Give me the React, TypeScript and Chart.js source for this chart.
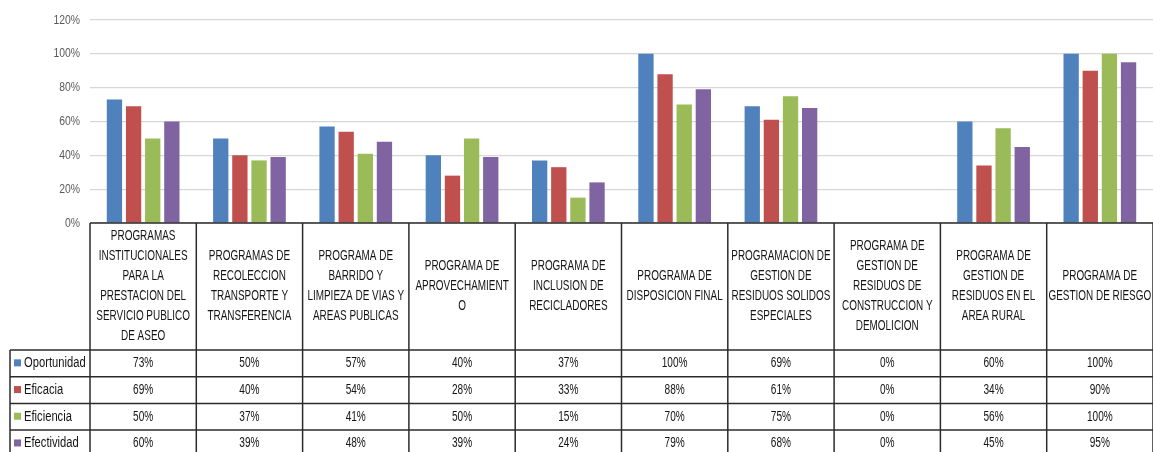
import React, { useEffect, useRef } from "react";
import { Chart, registerables } from "chart.js";

Chart.register(...registerables);

const categories: string[][] = [
  ["PROGRAMAS", "INSTITUCIONALES", "PARA LA", "PRESTACION DEL", "SERVICIO PUBLICO", "DE ASEO"],
  ["PROGRAMAS DE", "RECOLECCION", "TRANSPORTE Y", "TRANSFERENCIA"],
  ["PROGRAMA DE", "BARRIDO Y", "LIMPIEZA DE VIAS Y", "AREAS PUBLICAS"],
  ["PROGRAMA DE", "APROVECHAMIENT", "O"],
  ["PROGRAMA DE", "INCLUSION DE", "RECICLADORES"],
  ["PROGRAMA DE", "DISPOSICION FINAL"],
  ["PROGRAMACION DE", "GESTION DE", "RESIDUOS SOLIDOS", "ESPECIALES"],
  ["PROGRAMA DE", "GESTION DE", "RESIDUOS DE", "CONSTRUCCION Y", "DEMOLICION"],
  ["PROGRAMA DE", "GESTION DE", "RESIDUOS EN EL", "AREA RURAL"],
  ["PROGRAMA DE", "GESTION DE RIESGO"],
];

const seriesNames = ["Oportunidad", "Eficacia", "Eficiencia", "Efectividad"];
const oportunidad = [73, 50, 57, 40, 37, 100, 69, 0, 60, 100];
const eficacia = [69, 40, 54, 28, 33, 88, 61, 0, 34, 90];
const eficiencia = [50, 37, 41, 50, 15, 70, 75, 0, 56, 100];
const efectividad = [60, 39, 48, 39, 24, 79, 68, 0, 45, 95];
const seriesColors = ["#4F81BD", "#C0504D", "#9BBB59", "#8064A2"];
const yMin = 0;
const yMax = 120;
const yStep = 20;

const FONT = "'Liberation Sans', Arial, sans-serif";

function condensedText(ctx: CanvasRenderingContext2D, text: string, x: number, y: number, sx: number) {
  ctx.save();
  ctx.translate(x, y);
  ctx.scale(sx, 1);
  ctx.fillText(text, 0, 0);
  ctx.restore();
}

const tablePlugin = {
  id: "dataTable",
  afterDraw(chart: any) {
    const { ctx, chartArea } = chart;
    const xScale = chart.scales.x;
    const yScale = chart.scales.y;
    const n = categories.length;
    const w = chartArea.width / n;
    const top = chartArea.bottom;
    const headerBottom = top + 127;
    const rowH = 26.7;
    const legendLeft = 10;
    const bottom = headerBottom + rowH * seriesNames.length;
    const series = [oportunidad, eficacia, eficiencia, efectividad];

    ctx.save();

    // y tick labels
    ctx.fillStyle = "#595959";
    ctx.font = `13px ${FONT}`;
    ctx.textAlign = "right";
    ctx.textBaseline = "middle";
    yScale.ticks.forEach((t: any) => {
      condensedText(ctx, `${t.value}%`, 80, yScale.getPixelForValue(t.value), 0.8);
    });

    ctx.strokeStyle = "#2b2b2b";
    ctx.lineWidth = 1.5;

    // axis / table top
    ctx.beginPath();
    ctx.moveTo(chartArea.left, top);
    ctx.lineTo(chartArea.right, top);
    ctx.stroke();

    // vertical lines
    for (let i = 0; i <= n; i++) {
      const x = i === n ? chartArea.right : xScale.getPixelForValue(i) - w / 2;
      ctx.beginPath();
      ctx.moveTo(x, top);
      ctx.lineTo(x, bottom);
      ctx.stroke();
    }
    // legend column left border
    ctx.beginPath();
    ctx.moveTo(legendLeft, headerBottom);
    ctx.lineTo(legendLeft, bottom);
    ctx.stroke();

    // horizontal row lines
    for (let r = 0; r <= seriesNames.length; r++) {
      const y = headerBottom + r * rowH;
      ctx.beginPath();
      ctx.moveTo(legendLeft, y);
      ctx.lineTo(chartArea.right, y);
      ctx.stroke();
    }

    ctx.fillStyle = "#141414";
    ctx.textBaseline = "middle";
    ctx.textAlign = "center";
    ctx.font = `14px ${FONT}`;

    // header labels
    const headerMid = (top + headerBottom) / 2;
    const lineH = 20;
    categories.forEach((lines, i) => {
      const cx = xScale.getPixelForValue(i);
      const startY = headerMid - ((lines.length - 1) * lineH) / 2;
      lines.forEach((ln, k) => condensedText(ctx, ln, cx, startY + k * lineH, 0.71));
    });

    // values
    series.forEach((vals, r) => {
      const cy = headerBottom + r * rowH + rowH / 2;
      vals.forEach((v, i) => {
        condensedText(ctx, `${v}%`, xScale.getPixelForValue(i), cy, 0.72);
      });
    });

    // legend column
    ctx.textAlign = "left";
    seriesNames.forEach((name, r) => {
      const cy = headerBottom + r * rowH + rowH / 2;
      ctx.fillStyle = seriesColors[r];
      ctx.fillRect(legendLeft + 4, cy - 4, 7, 7);
      ctx.fillStyle = "#141414";
      condensedText(ctx, name, legendLeft + 14, cy, 0.8);
    });

    ctx.restore();
  },
};

export default function App() {
  const ref = useRef<HTMLCanvasElement | null>(null);

  useEffect(() => {
    if (!ref.current) return;
    const chart = new Chart(ref.current, {
      type: "bar",
      data: {
        labels: categories,
        datasets: [oportunidad, eficacia, eficiencia, efectividad].map((d, i) => ({
          label: seriesNames[i],
          data: d,
          backgroundColor: seriesColors[i],
          borderWidth: 0,
          categoryPercentage: 0.72,
          barPercentage: 0.8,
        })),
      },
      options: {
        animation: false,
        responsive: false,
        layout: { padding: { top: 20, bottom: 229, left: 0, right: 0 } },
        plugins: { legend: { display: false }, tooltip: { enabled: false } },
        scales: {
          x: { display: false },
          y: {
            min: yMin,
            max: yMax,
            ticks: {
              stepSize: yStep,
              display: false,
            },
            grid: { color: "#d6d6d6", lineWidth: 1.2, drawTicks: false },
            border: { display: false },
            afterFit: (s: any) => {
              s.width = 90;
            },
          },
        },
      },
      plugins: [tablePlugin],
    });
    return () => chart.destroy();
  }, []);

  return (
    <div style={{ position: "fixed", left: 0, top: 0, width: 1153, height: 452, background: "#fff" }}>
      <canvas ref={ref} width={1153} height={452} />
    </div>
  );
}
